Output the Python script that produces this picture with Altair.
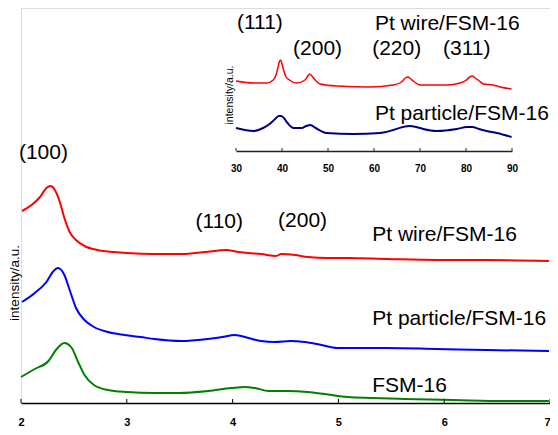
import altair as alt
import pandas as pd

FONT = "Liberation Sans"

# ---------------- main (low-angle) patterns: 2theta / deg vs intensity (a.u.)
wire_x = [2.01, 2.10, 2.18, 2.24, 2.28, 2.32, 2.37, 2.41, 2.46, 2.52, 2.60, 2.72, 2.88, 3.00,
          3.26, 3.52, 3.74, 3.94, 4.05, 4.15, 4.27, 4.41, 4.46, 4.59, 4.71, 4.90, 5.09, 5.46,
          5.93, 6.40, 6.99]
wire_i = [192, 198, 206, 215, 217, 213, 200, 185, 171, 163, 157, 153, 151, 150,
          149, 149, 151, 153, 151, 150, 149, 147, 149, 148, 146, 145, 145, 144,
          143, 143, 142]

particle_x = [2.01, 2.13, 2.24, 2.30, 2.35, 2.41, 2.46, 2.52, 2.60, 2.69, 2.82, 2.98, 3.13,
              3.26, 3.52, 3.76, 3.90, 4.02, 4.15, 4.27, 4.40, 4.55, 4.68, 4.84, 4.99, 5.46,
              5.93, 6.40, 6.99]
particle_i = [101, 110, 121, 131, 135, 128, 113, 95, 83, 76, 71, 68, 66,
              64, 62, 64, 66, 68, 65, 62, 61, 62, 61, 58, 55, 55,
              54, 53, 52]

fsm_x = [2.00, 2.13, 2.26, 2.33, 2.41, 2.48, 2.54, 2.60, 2.69, 2.82, 3.00, 3.26, 3.49, 3.77,
         3.99, 4.12, 4.21, 4.34, 4.52, 4.71, 4.87, 5.09, 5.31, 5.62, 6.09, 6.56, 6.99]
fsm_i = [26, 34, 42, 53, 60, 55, 41, 28, 18, 13, 11, 10, 10, 12,
         15, 16, 15, 12, 12, 11, 9, 6, 5, 4, 3, 2, 2]

main_series = ["Pt wire/FSM-16", "Pt particle/FSM-16", "FSM-16"]
main_colors = ["#ff0000", "#0000ff", "#008000"]

main_ticks = [2, 3, 4, 5, 6, 7]
main_labels = ["(100)", "(110)", "(200)", "Pt wire/FSM-16", "Pt particle/FSM-16", "FSM-16"]
main_label_x = [1.98, 3.65, 4.43, 5.32, 5.32, 5.32]
main_label_i = [250, 181, 182, 168, 84, 17]
main_ytitle = "intensity/a.u."
main_ytitle_x = [1.944]
main_ytitle_i = [120]

# ---------------- inset (wide-angle) patterns
in_wire_x = [30.0, 33.8, 36.7, 38.1, 38.7, 39.1, 39.4, 39.7, 40.0, 40.4, 40.9, 41.6, 43.2,
             45.0, 45.6, 46.0, 46.5, 47.2, 48.3, 51.9, 59.1, 64.2, 66.0, 66.8, 67.4, 68.0,
             68.8, 70.0, 75.8, 78.7, 80.1, 80.8, 81.4, 82.0, 82.9, 83.8, 85.9, 87.4, 89.9]
in_wire_i = [70, 68, 68, 71, 76, 83, 89, 91, 87, 80, 74, 71, 68,
             71, 75, 77, 75, 71, 67, 65, 64, 66, 69, 73, 74, 72,
             69, 66, 66, 68, 71, 74, 75, 73, 70, 67, 66, 64, 62]

in_particle_x = [30.0, 33.8, 35.9, 37.3, 38.5, 39.3, 39.8, 40.4, 41.2, 42.5, 44.3, 45.3, 46.2,
                 47.3, 49.7, 55.5, 61.3, 64.2, 66.3, 67.7, 69.2, 70.7, 73.6, 78.0, 80.2,
                 81.4, 82.8, 84.5, 86.7, 89.9]
in_particle_i = [23, 20, 23, 27, 32, 35, 35, 33, 28, 23, 23, 25, 26,
                 23, 18, 17, 18, 21, 24, 25, 24, 22, 20, 22, 24,
                 24, 22, 20, 18, 14]

inset_series = ["Pt wire/FSM-16", "Pt particle/FSM-16"]
inset_colors = ["#ff0000", "#000080"]
inset_widths = [1.5, 2.0]

inset_ticks = [30, 40, 50, 60, 70, 80, 90]
inset_labels = ["(111)", "Pt wire/FSM-16", "(200)", "(220)", "(311)", "Pt particle/FSM-16"]
inset_label_x = [30.2, 60.2, 42.4, 59.6, 75.0, 60.2]
inset_label_i = [128, 127, 102, 102, 102, 37]
inset_ytitle_x = [28.6]
inset_ytitle_i = [56]

# ---------------- tables
main_df = pd.concat([
    pd.DataFrame({"x": wire_x, "y": wire_i, "s": main_series[0]}),
    pd.DataFrame({"x": particle_x, "y": particle_i, "s": main_series[1]}),
    pd.DataFrame({"x": fsm_x, "y": fsm_i, "s": main_series[2]}),
])
main_tick_df = pd.DataFrame({"x": main_ticks, "y": [0] * len(main_ticks), "y2": [4] * len(main_ticks)})
main_text_df = pd.DataFrame({"x": main_label_x, "y": main_label_i, "t": main_labels})
main_yt_df = pd.DataFrame({"x": main_ytitle_x, "y": main_ytitle_i, "t": [main_ytitle]})

inset_df = pd.concat([
    pd.DataFrame({"x": in_wire_x, "y": in_wire_i, "s": inset_series[0]}),
    pd.DataFrame({"x": in_particle_x, "y": in_particle_i, "s": inset_series[1]}),
])
inset_tick_df = pd.DataFrame({"x": inset_ticks, "y": [0] * len(inset_ticks), "y2": [3] * len(inset_ticks)})
inset_text_df = pd.DataFrame({"x": inset_label_x, "y": inset_label_i, "t": inset_labels})
inset_yt_df = pd.DataFrame({"x": inset_ytitle_x, "y": inset_ytitle_i, "t": [main_ytitle]})

# ---------------- scales / axes
PLOT_W = 529
main_xs = alt.Scale(domain=[2, 7], nice=False, zero=False)
main_ys = alt.Scale(domain=[0, 395], nice=False, zero=False)
main_ax = alt.Axis(values=main_ticks, format="d", ticks=False, grid=False, title=None,
                   domainColor="#000000", domainWidth=1.5, labelFont=FONT,
                   labelFontWeight="bold", labelFontSize=11, labelColor="#000000",
                   labelPadding=13, labelFlush=False, orient="bottom",
                   labelAlign={"condition": {"test": "datum.value == 7", "value": "right"},
                               "value": "center"})

in_xs = alt.Scale(domain=[30, 90], range=[215, 491], nice=False, zero=False)
in_ys = alt.Scale(domain=[0, 143], range=[143, 0], nice=False, zero=False)
in_ax = alt.Axis(values=inset_ticks, format="d", ticks=False, grid=False, title=None,
                 domainColor="#222222", domainWidth=1.5, labelFont=FONT,
                 labelFontWeight="bold", labelFontSize=10, labelColor="#000000",
                 labelPadding=12, labelFlush=False, orient="bottom", offset=-252)


def mx():
    return alt.X("x:Q", scale=main_xs, axis=main_ax)


def my():
    return alt.Y("y:Q", scale=main_ys, axis=None)


def ix():
    return alt.X("x:Q", scale=in_xs, axis=in_ax)


def iy():
    return alt.Y("y:Q", scale=in_ys, axis=None)


main_lines = alt.Chart(main_df).mark_line(strokeWidth=2, interpolate="monotone").encode(
    x=mx(), y=my(),
    color=alt.Color("s:N", scale=alt.Scale(domain=main_series, range=main_colors), legend=None),
)
main_tick_marks = alt.Chart(main_tick_df).mark_rule(color="#000000", strokeWidth=1).encode(
    x=mx(), y=my(), y2="y2:Q")
main_text = alt.Chart(main_text_df).mark_text(
    align="left", baseline="middle", font=FONT, fontSize=21, color="#000000"
).encode(x=mx(), y=my(), text="t:N")
main_ytitle_mark = alt.Chart(main_yt_df).mark_text(
    align="center", baseline="middle", font=FONT, fontSize=13.5, angle=270, color="#000000"
).encode(x=mx(), y=my(), text="t:N")

main_group = alt.layer(main_lines, main_tick_marks, main_text, main_ytitle_mark)

inset_lines = alt.layer(*[
    alt.Chart(inset_df[inset_df["s"] == s]).mark_line(
        strokeWidth=w, color=c, interpolate="monotone").encode(x=ix(), y=iy())
    for s, c, w in zip(inset_series, inset_colors, inset_widths)
])
inset_tick_marks = alt.Chart(inset_tick_df).mark_rule(color="#222222", strokeWidth=1).encode(
    x=ix(), y=iy(), y2="y2:Q")
inset_text = alt.Chart(inset_text_df).mark_text(
    align="left", baseline="middle", font=FONT, fontSize=21, color="#000000"
).encode(x=ix(), y=iy(), text="t:N")
inset_ytitle_mark = alt.Chart(inset_yt_df).mark_text(
    align="center", baseline="middle", font=FONT, fontSize=10.5, angle=270, color="#000000"
).encode(x=ix(), y=iy(), text="t:N")

inset_group = alt.layer(inset_lines, inset_tick_marks, inset_text, inset_ytitle_mark)

chart = alt.layer(main_group, inset_group).resolve_scale(
    x="independent", y="independent", color="independent"
).properties(
    width=PLOT_W, height=395,
    autosize=alt.AutoSizeParams(type="none"),
    padding={"left": 13, "top": 0, "right": 0, "bottom": 24},
).configure_view(stroke=None).configure(background="#ffffff")

chart.save("out.html", embed_options={"renderer": "svg", "actions": False})
